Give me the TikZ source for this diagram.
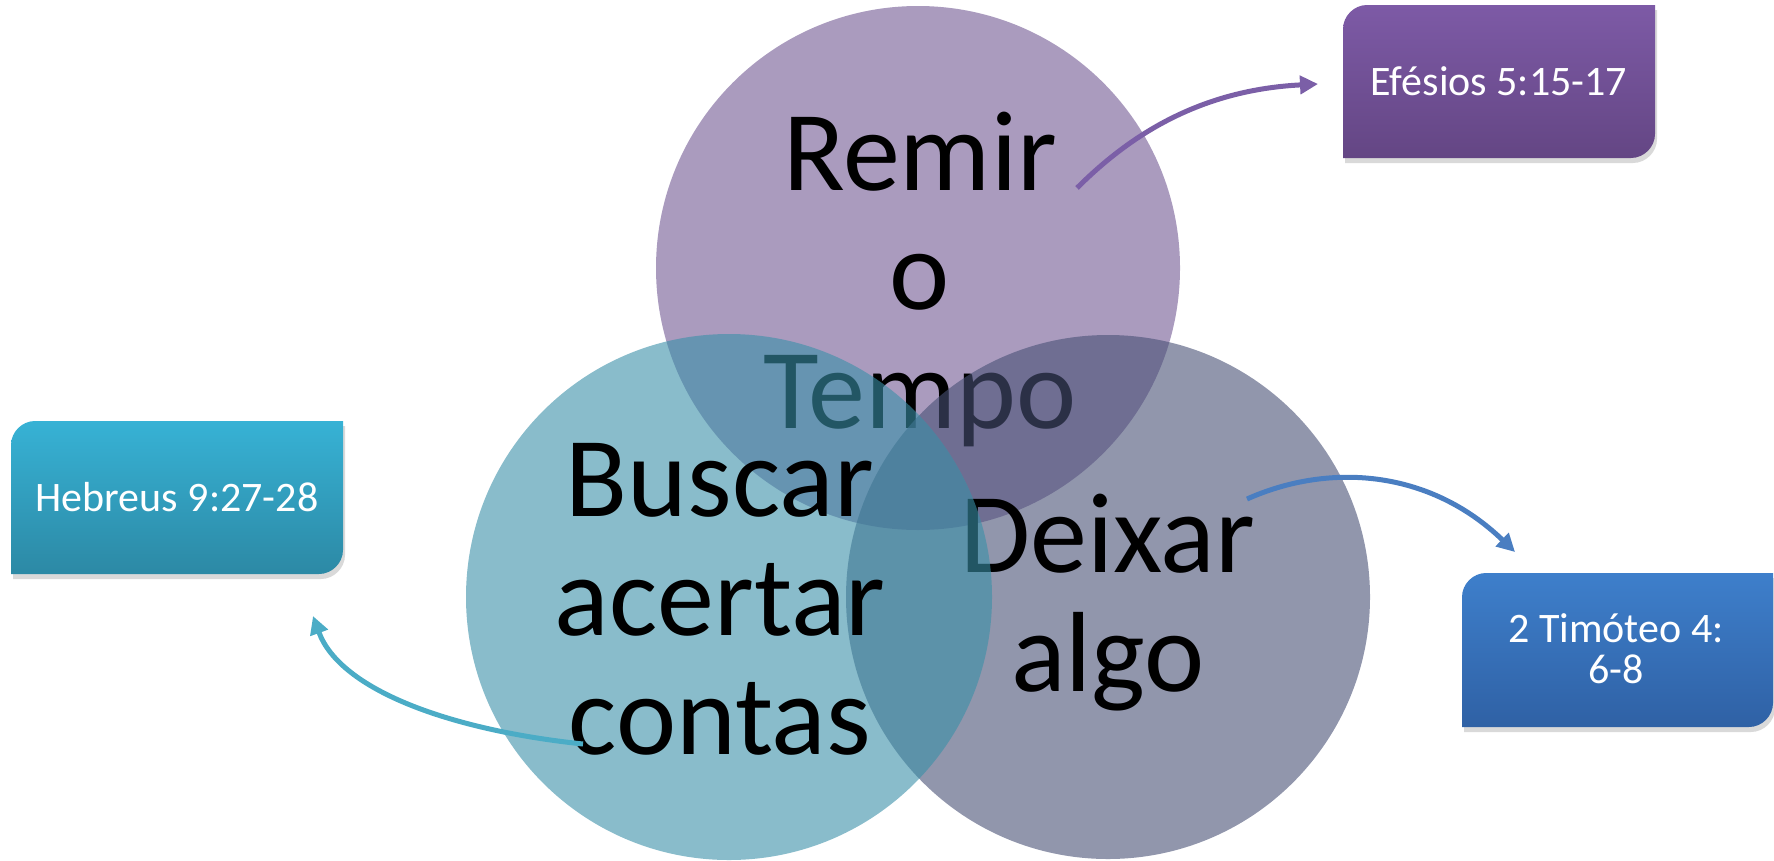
\documentclass[tikz,border=0pt]{standalone}
\usepackage{fontspec}
\setmainfont{Carlito}
\usetikzlibrary{arrows.meta}
\definecolor{purpleC}{RGB}{113,88,147}
\definecolor{greyC}{RGB}{72,80,117}
\definecolor{tealC}{RGB}{58,144,168}
\definecolor{arrP}{RGB}{123,95,167}
\definecolor{arrB}{RGB}{74,126,193}
\definecolor{arrT}{RGB}{75,172,198}
\definecolor{boxPt}{RGB}{125,90,166}
\definecolor{boxPb}{RGB}{100,70,132}
\definecolor{boxHt}{RGB}{55,178,213}
\definecolor{boxHb}{RGB}{44,137,165}
\definecolor{boxTt}{RGB}{62,127,203}
\definecolor{boxTb}{RGB}{47,97,165}
\tikzset{
  circ/.style={fill opacity=0.6},
  bigtext/.style={font=\fontsize{114}{119}\selectfont, align=center, anchor=base, inner sep=0pt, text=black},
  boxtext/.style={font=\fontsize{42}{41}\selectfont, align=center, anchor=base, inner sep=0pt, text=white},
  conn/.style={line width=5pt, -{Triangle[length=18pt,width=18pt]}},
  boxshadow/.style={fill=black, fill opacity=0.15}
}
\newcommand{\boxpath}[4]{% L T R B
  (#1,#4) -- (#1,#2+24) .. controls (#1,#2+11) and (#1+11,#2) .. (#1+24,#2) -- (#3,#2) -- (#3,#4-24) .. controls (#3,#4-11) and (#3-11,#4) .. (#3-24,#4) -- cycle}
\begin{document}
\begin{tikzpicture}[x=1pt,y=-1pt]
\useasboundingbox (0,0) rectangle (1774,860);
% purple circle and text
\fill[purpleC, circ] (918,268) circle (262);
\node[bigtext] (remir) at (920,428) {Remir\\o\\Tempo};
% grey circle and text
\fill[greyC, circ] (1108,597) circle (262);
\node[bigtext] (deixar) at (1108,691) {Deixar\\algo};
% teal circle and text
\fill[tealC, circ] (729,597) circle (263);
\node[bigtext] (buscar) at (720,754) {Buscar\\acertar\\contas};
% boxes
\fill[boxshadow] [shift={(2,5)}] \boxpath{1343}{5}{1655}{158};
\shade[top color=boxPt, bottom color=boxPb] \boxpath{1343}{5}{1655}{158};
\node[boxtext] (efesios) at (1499,95) {Efésios 5:15-17};
\fill[boxshadow] [shift={(2,5)}] \boxpath{11}{421}{343}{574};
\shade[top color=boxHt, bottom color=boxHb] \boxpath{11}{421}{343}{574};
\node[boxtext] (hebreus) at (177,511) {Hebreus 9:27-28};
\fill[boxshadow] [shift={(2,5)}] \boxpath{1462}{573}{1773}{727};
\shade[top color=boxTt, bottom color=boxTb] \boxpath{1462}{573}{1773}{727};
\node[boxtext] (timoteo) at (1616,683) {2 Timóteo 4:\\6-8};
% connectors
\coordinate (sP) at (1077,188);
\coordinate (eP) at (1318,84);
\coordinate (sB) at (1247,499);
\coordinate (eB) at (1515,552);
\coordinate (sT) at (583,744);
\coordinate (eT) at (313,616);
\draw[conn, arrP] (sP) .. controls (1130,135) and (1200,90) .. (eP);
\draw[conn, arrB] (sB) .. controls (1330,462) and (1430,470) .. (eB);
\draw[conn, arrT] (sT) .. controls (450,730) and (340,690) .. (eT);
\end{tikzpicture}
\end{document}
